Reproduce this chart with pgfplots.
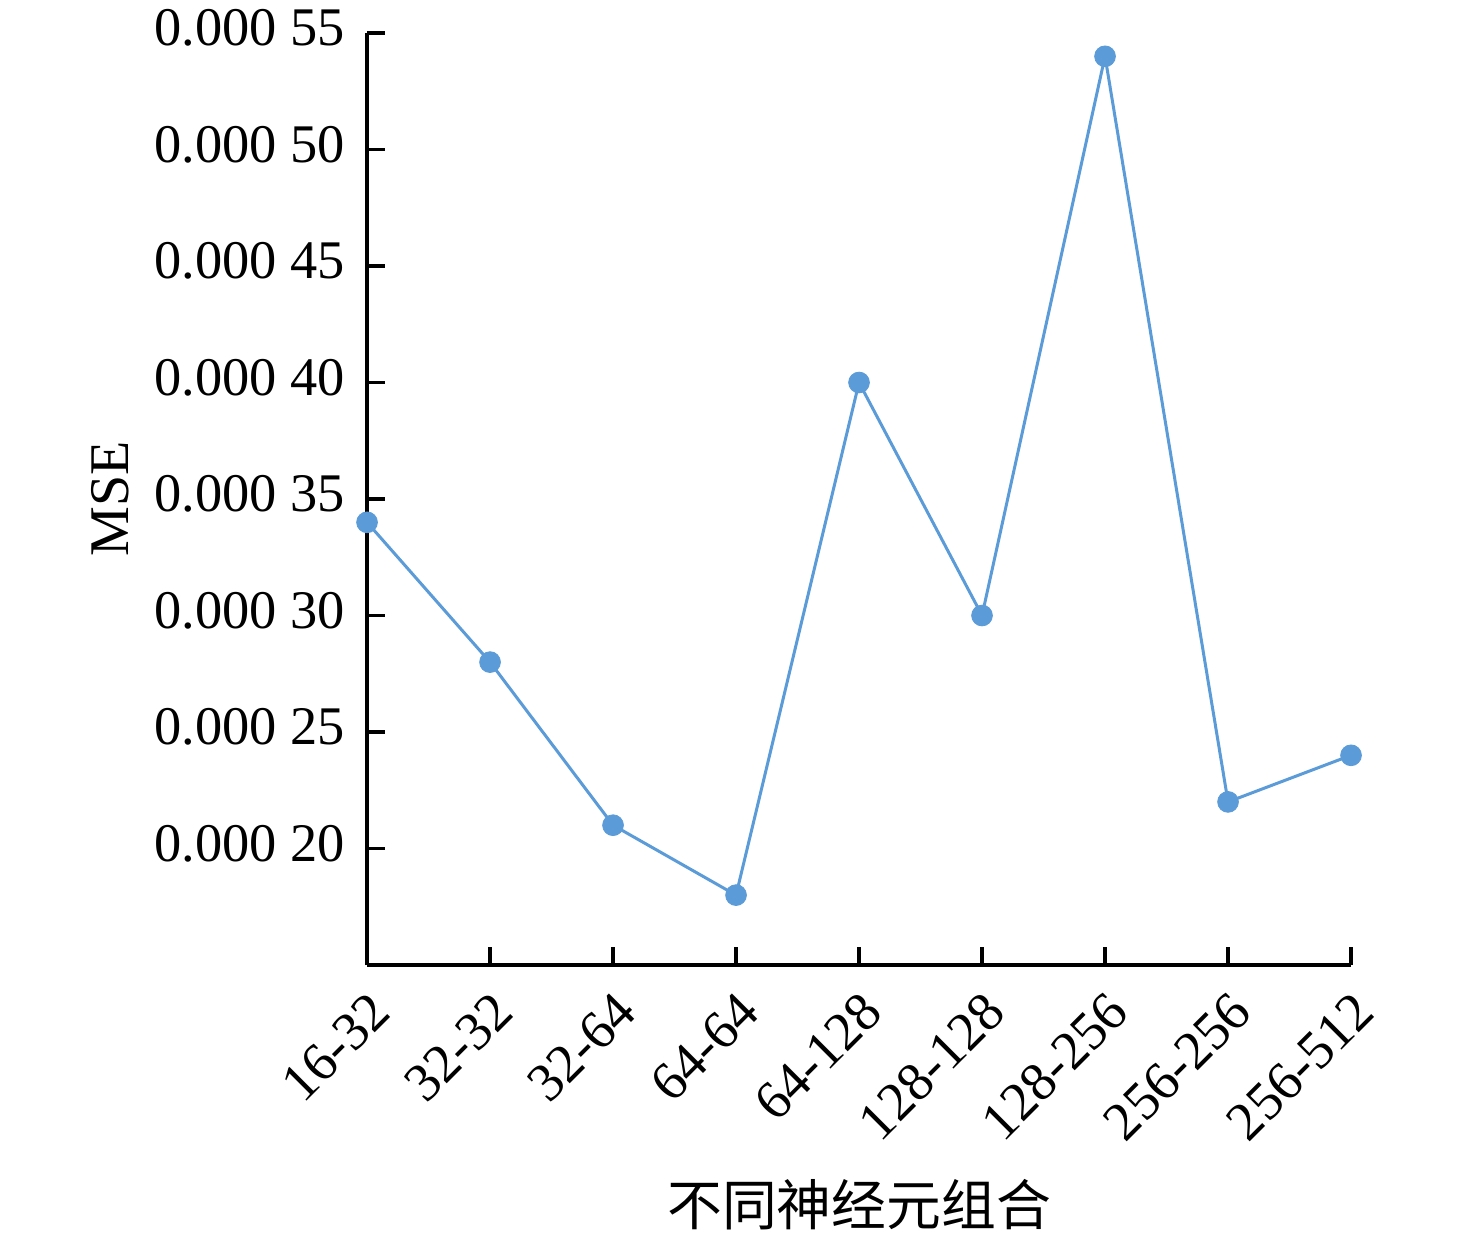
\documentclass[border=0pt]{standalone}
\usepackage{pgfplots}
\pgfplotsset{compat=1.18}
\usepackage{fontspec}
\setmainfont{Liberation Serif}
\newfontfamily\cjk{Noto Sans CJK SC}
\definecolor{lineblue}{HTML}{5B9BD8}
\begin{document}
\begin{tikzpicture}
\useasboundingbox (-91.76pt,-69.2pt) rectangle (277.24pt,241.25pt);
\begin{axis}[
  at={(0,0)}, anchor=south west,
  scale only axis,
  width=246pt, height=233pt,
  xmin=0, xmax=8,
  ymin=0.00015, ymax=0.00055,
  axis lines*=left,
  axis line style={line width=0.8pt, black},
  tick style={line width=0.8pt, black},
  major tick length=4.5pt,
  xtick align=inside, ytick align=inside,
  tick align=inside,
  xtick={0,...,8},
  xticklabels={16-32,32-32,32-64,64-64,64-128,128-128,128-256,256-256,256-512},
  xticklabel style={rotate=45, anchor=east, font=\fontsize{13.6}{15}\selectfont, inner sep=1pt, yshift=-9pt, xshift=-3pt},
  ytick={0.0002,0.00025,0.0003,0.00035,0.0004,0.00045,0.0005,0.00055},
  yticklabels={0.000 20,0.000 25,0.000 30,0.000 35,0.000 40,0.000 45,0.000 50,0.000 55},
  yticklabel style={font=\fontsize{13.6}{15}\selectfont, xshift=-2pt, yshift=1.2pt},
  scaled y ticks=false,
  ylabel={MSE},
  ylabel style={at={(rel axis cs:-0.261,0.5)}, anchor=center, font=\fontsize{14}{16}\selectfont},
  xlabel={不同神经元组合},
  xlabel style={at={(rel axis cs:0.5,-0.2575)}, anchor=center, font=\fontsize{13.7}{16}\selectfont\cjk},
  clip=false,
]
\addplot[color=lineblue, line width=0.75pt, mark=*, mark size=2.6pt, mark options={fill=lineblue, draw=lineblue, line width=0.2pt}]
  coordinates {(0,0.000340) (1,0.000280) (2,0.000210) (3,0.000180) (4,0.000400) (5,0.000300) (6,0.000540) (7,0.000220) (8,0.000240)};
\end{axis}
\end{tikzpicture}
\end{document}
